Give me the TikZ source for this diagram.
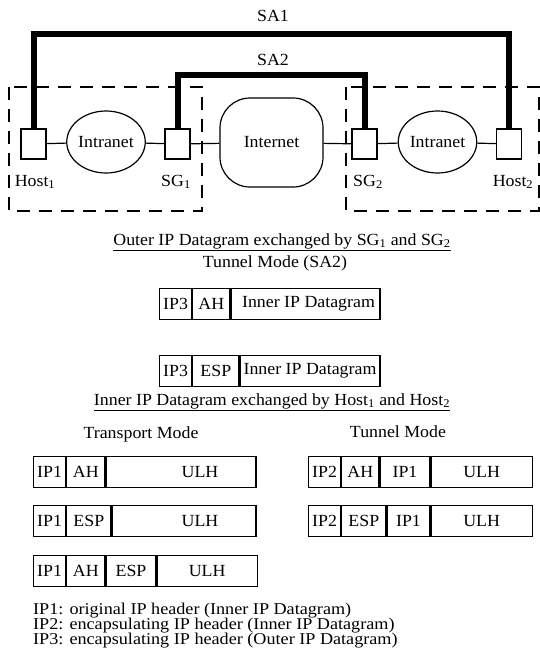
\documentclass[tikz,border=0pt]{standalone}
\usepackage{fontspec}
\setmainfont{Liberation Serif}[FakeStretch=1.05]
\newfontfamily\legendfont{Liberation Serif}[FakeStretch=1.1]
\usetikzlibrary{shapes.geometric}
\begin{document}
\begin{tikzpicture}[x=1pt,y=-1pt,
  every node/.style={font=\fontsize{17}{15}\selectfont, inner sep=0pt},
  wire/.style={line width=1.2pt},
  sa/.style={line width=6pt},
  zone/.style={line width=1.4pt, dash pattern=on 13pt off 9pt},
  dev/.style={draw, line width=1.2pt, minimum width=25pt, minimum height=30pt},
  net/.style={draw, ellipse, line width=1.2pt, minimum width=70pt, minimum height=62pt},
  inet/.style={draw, rounded corners=30pt, line width=1.2pt, minimum width=103pt, minimum height=89pt},
  field/.style={draw, line width=1.2pt, minimum height=31pt, anchor=north west},
  lbl/.style={anchor=base},
  legend/.style={anchor=base west, font=\legendfont\fontsize{16.5}{15}\selectfont},
]
\useasboundingbox (0,0) rectangle (540,654);

% security zones
\draw[zone] (9,87) rectangle (202,211);
\draw[zone] (346,87) rectangle (539,211);

% devices and networks
\node[dev] (h1) at (33.5,144) {};
\node[net] (i1) at (106,142) {Intranet};
\node[dev] (g1) at (177.5,144) {};
\node[inet] (in) at (271.5,142.5) {Internet};
\node[dev] (g2) at (364.5,144) {};
\node[net] (i2) at (437.5,142) {Intranet};
\node[dev] (h2) at (509,144) {};

\node[lbl] (lh1) at (35,186) {Host\textsubscript{1}};
\node[lbl] (lg1) at (176,186) {SG\textsubscript{1}};
\node[lbl] (lg2) at (368,186) {SG\textsubscript{2}};
\node[lbl] (lh2) at (513,186) {Host\textsubscript{2}};

\draw[wire] (h1) -- (i1);
\draw[wire] (i1) -- (g1);
\draw[wire] (g1) -- (in);
\draw[wire] (in) -- (g2);
\draw[wire] (g2) -- (i2);
\draw[wire] (i2) -- (h2);

% security associations
\coordinate (sa1y) at (0,34);
\coordinate (sa2y) at (0,75);
\draw[sa] (h1.north) -- (h1.north |- sa1y) -- (h2.north |- sa1y) -- (h2.north);
\draw[sa] (g1.north) -- (g1.north |- sa2y) -- (g2.north |- sa2y) -- (g2.north);
\node[lbl] (sa1) at (273,21) {SA1};
\node[lbl] (sa2) at (273,65) {SA2};

% outer datagram
\node[lbl] (otitle) at (282,245) {\underline{Outer IP Datagram exchanged by SG\textsubscript{1} and SG\textsubscript{2}}};
\node[lbl] (otm) at (275,267) {Tunnel Mode (SA2)};
\node[field, minimum width=32pt] (oa1) at (159,288) {IP3};
\node[field, minimum width=37pt] (oa2) at (oa1.north east) {AH};
\node[field, minimum width=149pt] (oa3) at (oa2.north east) {\hspace*{6pt}Inner IP Datagram};
\node[field, minimum width=32pt] (ob1) at (159,355) {IP3};
\node[field, minimum width=46pt] (ob2) at (ob1.north east) {ESP};
\node[field, minimum width=140pt] (ob3) at (ob2.north east) {Inner IP Datagram};

% inner datagram
\node[lbl] (ititle) at (272,405) {\underline{Inner IP Datagram exchanged by Host\textsubscript{1} and Host\textsubscript{2}}};
\node[lbl] (trm) at (141,438) {Transport Mode};
\node[lbl] (tum) at (398,437) {Tunnel Mode};

\node[field, minimum width=32pt] (ta1) at (33,456) {IP1};
\node[field, minimum width=38pt] (ta2) at (ta1.north east) {AH};
\node[field, minimum width=150pt] (ta3) at (ta2.north east) {\hspace*{38pt}ULH};

\node[field, minimum width=32pt] (tb1) at (33,505) {IP1};
\node[field, minimum width=44pt] (tb2) at (tb1.north east) {ESP};
\node[field, minimum width=144pt] (tb3) at (tb2.north east) {\hspace*{32pt}ULH};

\node[field, minimum width=32pt] (tc1) at (33,555) {IP1};
\node[field, minimum width=38pt] (tc2) at (tc1.north east) {AH};
\node[field, minimum width=50pt] (tc3) at (tc2.north east) {ESP};
\node[field, minimum width=100pt] (tc4) at (tc3.north east) {ULH};

\node[field, minimum width=32pt] (ua1) at (308,456) {IP2};
\node[field, minimum width=37pt] (ua2) at (ua1.north east) {AH};
\node[field, minimum width=50pt] (ua3) at (ua2.north east) {IP1};
\node[field, minimum width=101pt] (ua4) at (ua3.north east) {ULH};

\node[field, minimum width=32pt] (ub1) at (308,505) {IP2};
\node[field, minimum width=44pt] (ub2) at (ub1.north east) {ESP};
\node[field, minimum width=43pt] (ub3) at (ub2.north east) {IP1};
\node[field, minimum width=101pt] (ub4) at (ub3.north east) {ULH};

% legend
\node[legend] (l1) at (33,614) {IP1: original IP header (Inner IP Datagram)};
\node[legend] (l2) at (33,629) {IP2: encapsulating IP header (Inner IP Datagram)};
\node[legend] (l3) at (33,644) {IP3: encapsulating IP header (Outer IP Datagram)};
\end{tikzpicture}
\end{document}
